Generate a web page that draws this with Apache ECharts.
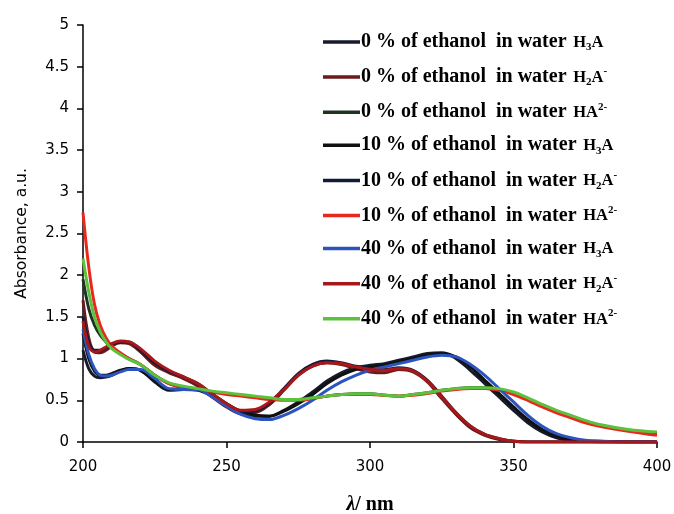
<!DOCTYPE html>
<html>
<head>
<meta charset="utf-8">
<script src="https://cdn.jsdelivr.net/npm/echarts@6/dist/echarts.min.js"></script>
<style>
  html, body { margin: 0; padding: 0; background: #fff; }
  #chart-container { width: 674px; height: 514px; }
</style>
</head>
<body>
<div id="chart-container"></div>
<script>
var dom = document.getElementById("chart-container");
var myChart = echarts.init(dom, null, { renderer: "canvas" });

// wavelength grid, nm
const wavelengths = [200, 202, 204, 206, 208, 210, 213, 216, 220, 225, 230, 235, 240, 245, 250, 255, 260, 265, 270, 275, 280, 285, 290, 295, 300, 305, 310, 315, 320, 325, 330, 335, 340, 345, 350, 355, 360, 365, 370, 375, 380, 390, 400];

// H3A form
const h3a_0 = [1.1, 0.88, 0.79, 0.77, 0.78, 0.8, 0.85, 0.88, 0.86, 0.72, 0.62, 0.63, 0.62, 0.55, 0.45, 0.36, 0.31, 0.31, 0.38, 0.48, 0.6, 0.73, 0.83, 0.89, 0.92, 0.94, 0.98, 1.02, 1.06, 1.07, 1.0, 0.86, 0.7, 0.54, 0.38, 0.23, 0.12, 0.05, 0.02, 0.01, 0, 0, 0];
const h3a_10 = [1.3, 1.0, 0.85, 0.8, 0.8, 0.82, 0.86, 0.88, 0.86, 0.74, 0.63, 0.64, 0.63, 0.57, 0.46, 0.37, 0.32, 0.31, 0.37, 0.46, 0.57, 0.7, 0.8, 0.87, 0.9, 0.92, 0.96, 1.0, 1.04, 1.06, 1.02, 0.9, 0.74, 0.58, 0.42, 0.27, 0.15, 0.07, 0.03, 0.01, 0.01, 0, 0];
const h3a_40 = [1.35, 1.05, 0.88, 0.8, 0.79, 0.8, 0.84, 0.87, 0.87, 0.76, 0.64, 0.63, 0.63, 0.54, 0.43, 0.33, 0.28, 0.27, 0.32, 0.4, 0.5, 0.62, 0.72, 0.8, 0.86, 0.9, 0.94, 0.98, 1.02, 1.04, 1.02, 0.93, 0.8, 0.64, 0.48, 0.32, 0.19, 0.1, 0.05, 0.02, 0.01, 0, 0];

// H2A- form
const h2a_0 = [1.7, 1.25, 1.08, 1.07, 1.1, 1.15, 1.19, 1.18, 1.08, 0.92, 0.83, 0.76, 0.67, 0.54, 0.42, 0.34, 0.35, 0.45, 0.62, 0.8, 0.91, 0.95, 0.93, 0.88, 0.84, 0.83, 0.87, 0.84, 0.72, 0.52, 0.33, 0.17, 0.08, 0.03, 0.01, 0, 0, 0, 0, 0, 0, 0, 0];
const h2a_10 = [1.5, 1.2, 1.1, 1.1, 1.13, 1.17, 1.2, 1.2, 1.1, 0.95, 0.85, 0.78, 0.7, 0.57, 0.44, 0.36, 0.37, 0.47, 0.64, 0.82, 0.93, 0.97, 0.95, 0.91, 0.88, 0.87, 0.89, 0.86, 0.74, 0.55, 0.35, 0.19, 0.09, 0.04, 0.01, 0, 0, 0, 0, 0, 0, 0, 0];
const h2a_40 = [1.45, 1.15, 1.08, 1.1, 1.14, 1.18, 1.21, 1.2, 1.12, 0.97, 0.86, 0.78, 0.7, 0.58, 0.46, 0.38, 0.39, 0.48, 0.63, 0.8, 0.91, 0.95, 0.94, 0.9, 0.87, 0.86, 0.88, 0.85, 0.73, 0.54, 0.35, 0.19, 0.09, 0.04, 0.01, 0, 0, 0, 0, 0, 0, 0, 0];

// HA2- form
const ha_0 = [1.95, 1.6, 1.4, 1.28, 1.2, 1.13, 1.06, 1.0, 0.93, 0.8, 0.7, 0.66, 0.63, 0.6, 0.58, 0.56, 0.54, 0.52, 0.51, 0.51, 0.53, 0.55, 0.57, 0.58, 0.58, 0.56, 0.55, 0.57, 0.59, 0.62, 0.64, 0.65, 0.65, 0.63, 0.58, 0.51, 0.44, 0.37, 0.3, 0.25, 0.2, 0.14, 0.1];
const ha_10 = [2.75, 2.1, 1.65, 1.4, 1.25, 1.15, 1.07, 1.0, 0.93, 0.8, 0.7, 0.66, 0.63, 0.6, 0.57, 0.55, 0.53, 0.51, 0.5, 0.5, 0.52, 0.55, 0.57, 0.57, 0.57, 0.56, 0.55, 0.56, 0.58, 0.61, 0.63, 0.64, 0.64, 0.62, 0.57, 0.5, 0.42, 0.35, 0.29, 0.23, 0.19, 0.13, 0.08];
const ha_40 = [2.2, 1.8, 1.5, 1.32, 1.2, 1.12, 1.05, 0.99, 0.93, 0.8, 0.71, 0.67, 0.64, 0.61, 0.59, 0.57, 0.55, 0.53, 0.51, 0.51, 0.53, 0.55, 0.57, 0.58, 0.58, 0.56, 0.55, 0.57, 0.59, 0.62, 0.64, 0.65, 0.65, 0.64, 0.6, 0.53, 0.45, 0.38, 0.32, 0.26, 0.21, 0.15, 0.12];

const seriesNames = [
  "0 % of ethanol  in water H3A",
  "0 % of ethanol  in water H2A-",
  "0 % of ethanol  in water HA2-",
  "10 % of ethanol  in water H3A",
  "10 % of ethanol  in water H2A-",
  "10 % of ethanol  in water HA2-",
  "40 % of ethanol  in water H3A",
  "40 % of ethanol  in water H2A-",
  "40 % of ethanol  in water HA2-",
];
const seriesValues = [h3a_0, h2a_0, ha_0, h3a_10, h2a_10, ha_10, h3a_40, h2a_40, ha_40];
const seriesColors = ["#161a2c", "#6a1a1a", "#1f3420", "#111111", "#121a3a", "#e8281e", "#2c54bf", "#a8181a", "#5cc23c"];

// rich-text pieces for the species label in the legend
function speciesRich(name) {
  if (name.endsWith("H3A")) return "{s|H}{sub|3}{s|A}";
  if (name.endsWith("H2A-")) return "{s|H}{sub|2}{s|A}{sup|-}";
  return "{s|HA}{sup|2-}";
}

const serifBold = { fontFamily: "Liberation Serif", fontWeight: "bold", color: "#000" };

var option = {
  backgroundColor: "#fff",
  animation: false,
  grid: { left: 83, right: 17, top: 25, bottom: 72, outerBoundsMode: "none" },
  legend: {
    orient: "vertical",
    left: 323,
    top: 32,
    padding: 0,
    itemGap: 13.1,
    itemWidth: 37,
    itemHeight: 3.5,
    icon: "rect",
    data: seriesNames,
    formatter: function (name) {
      var head = name.replace(/ (H3A|H2A-|HA2-)$/, "");
      return "{t|" + head + "}  " + speciesRich(name);
    },
    textStyle: {
      padding: [0, 0, 0, -4],
      rich: {
        t: Object.assign({ fontSize: 20, lineHeight: 22 }, serifBold),
        s: Object.assign({ fontSize: 16.5, lineHeight: 22, padding: [1, 0, 0, 0] }, serifBold),
        sub: Object.assign({ fontSize: 11, lineHeight: 9, verticalAlign: "bottom" }, serifBold),
        sup: Object.assign({ fontSize: 11, lineHeight: 12, verticalAlign: "top" }, serifBold),
      },
    },
  },
  xAxis: {
    type: "value",
    min: 200,
    max: 400,
    interval: 50,
    name: "{l|λ}{n|/ nm}",
    nameLocation: "middle",
    nameGap: 53,
    nameTextStyle: {
      rich: {
        l: Object.assign({ fontStyle: "italic", fontSize: 20 }, serifBold),
        n: Object.assign({ fontSize: 20 }, serifBold),
      },
    },
    axisLine: { lineStyle: { color: "#000", width: 1.5 } },
    axisTick: { show: true, length: 6, lineStyle: { color: "#000", width: 1.5 } },
    axisLabel: { margin: 18, fontFamily: "DejaVu Sans", fontSize: 15, color: "#000" },
    splitLine: { show: false },
  },
  yAxis: {
    type: "value",
    min: 0,
    max: 5,
    interval: 0.5,
    name: "Absorbance, a.u.",
    nameLocation: "middle",
    nameGap: 53,
    nameTextStyle: { fontFamily: "DejaVu Sans", fontSize: 15.5, color: "#000" },
    axisLine: { show: true, lineStyle: { color: "#000", width: 1.5 } },
    axisTick: { show: true, length: 6, lineStyle: { color: "#000", width: 1.5 } },
    axisLabel: { margin: 14, fontFamily: "DejaVu Sans", fontSize: 15, color: "#000" },
    splitLine: { show: false },
  },
  series: seriesNames.map(function (name, i) {
    return {
      name: name,
      type: "line",
      data: wavelengths.map(function (w, j) { return [w, seriesValues[i][j]]; }),
      smooth: 0.35,
      showSymbol: false,
      lineStyle: { width: 3, color: seriesColors[i] },
      itemStyle: { color: seriesColors[i] },
    };
  }),
};

if (option && typeof option === "object") {
  myChart.setOption(option);
}

window.addEventListener("resize", myChart.resize);
</script>
</body>
</html>
